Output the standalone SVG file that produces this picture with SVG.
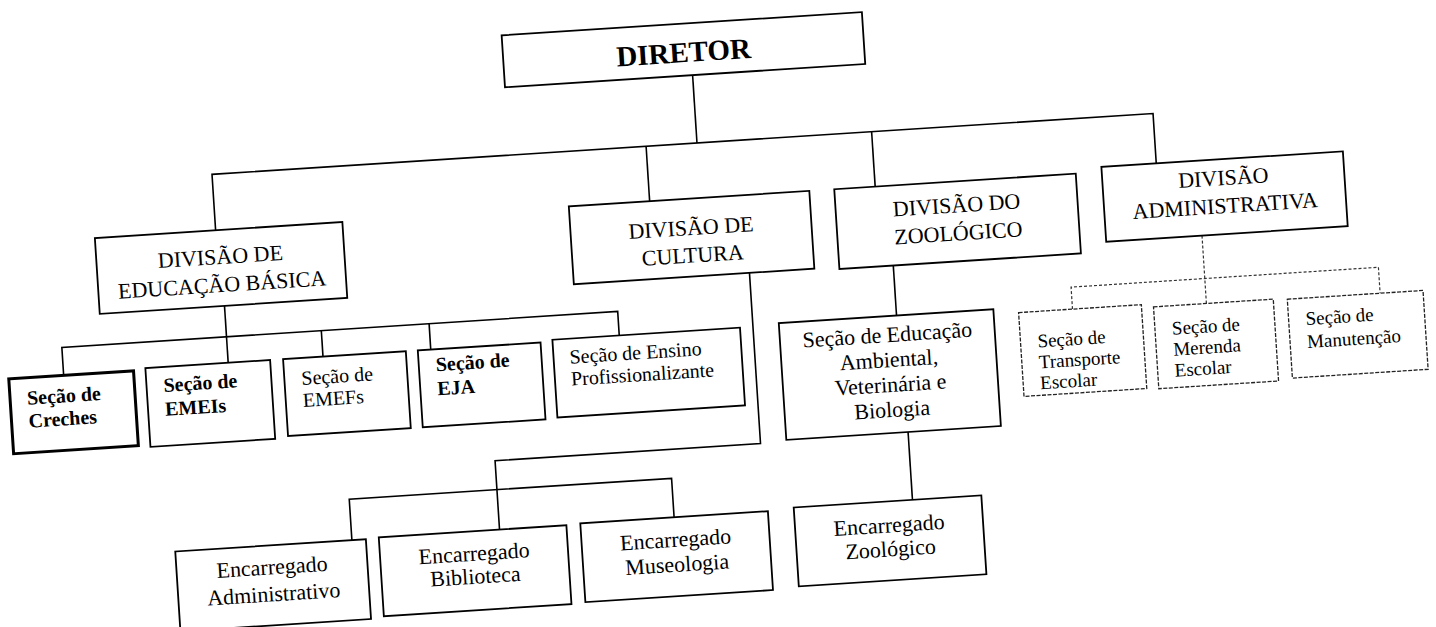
<svg xmlns="http://www.w3.org/2000/svg" width="1436" height="627" viewBox="0 0 1436 627">
<style>
.bg{fill:#fff}
.box{fill:#fff;stroke:#000;stroke-width:1.8}
.thick{fill:#fff;stroke:#000;stroke-width:3}
.dbox{fill:#fff;stroke:#222;stroke-width:1.3;stroke-dasharray:4 1.5}
.ln{fill:none;stroke:#000;stroke-width:1.6}
.dln{fill:none;stroke:#333;stroke-width:1.2;stroke-dasharray:3 2}
.c{text-anchor:middle;font-size:22px}
.s{font-size:20px}
.b{font-weight:bold}
.a{font-size:19px}
</style>
<rect class="bg" x="0" y="0" width="1436" height="627"/>
<g transform="rotate(-3.7 718 313)" font-family="Liberation Serif, DejaVu Serif, serif" fill="#000">
<g id="connectors">
<path class="ln" d="M708,74 V142"/>
<path class="ln" d="M222,198 V142 H1165 V192"/>
<path class="ln" d="M657,142 V197"/>
<path class="ln" d="M883,142 V197"/>
<path class="ln" d="M226,274 V331"/>
<path class="ln" d="M61,333 V305 H618 V329"/>
<path class="ln" d="M321,305 V331"/>
<path class="ln" d="M429,305 V331"/>
<path class="ln" d="M752,275 V446 H486 V515"/>
<path class="ln" d="M338,516 V475 H661 V514"/>
<path class="ln" d="M896,277 V327"/>
<path class="ln" d="M900,444 V512"/>
<path class="dln" d="M1206,267 V335"/>
<path class="dln" d="M1072,332 V310 H1380 V336"/>
</g>
<g id="diretor"><rect class="box" x="520" y="22" width="361" height="52"/><text class="b" x="700.5" y="60.5" text-anchor="middle" font-size="29">DIRETOR</text></g>
<g id="div-educacao"><rect class="box" x="101" y="198" width="248" height="76"/><text class="c" x="225" y="232">DIVISÃO DE</text><text class="c" x="225" y="260">EDUCAÇÃO BÁSICA</text></g>
<g id="div-cultura"><rect class="box" x="576" y="197" width="241" height="78"/><text class="c" x="696.5" y="233.5">DIVISÃO DE</text><text class="c" x="696.5" y="261">CULTURA</text></g>
<g id="div-zoologico"><rect class="box" x="842" y="197" width="242" height="80"/><text class="c" x="963" y="228">DIVISÃO DO</text><text class="c" x="963" y="256">ZOOLÓGICO</text></g>
<g id="div-administrativa"><rect class="box" x="1110" y="192" width="242" height="75"/><text class="c" x="1231" y="218">DIVISÃO</text><text class="c" x="1231" y="246">ADMINISTRATIVA</text></g>
<g id="sec-creches"><rect class="thick" x="6" y="333" width="125" height="75"/><text class="s b" x="23" y="360">Seção de</text><text class="s b" x="23" y="383">Creches</text></g>
<g id="sec-emeis"><rect class="box" x="143" y="331" width="125" height="79"/><text class="s b" x="160" y="356">Seção de</text><text class="s b" x="160" y="380">EMEIs</text></g>
<g id="sec-emefs"><rect class="box" x="281" y="331" width="123" height="77"/><text class="s" x="298" y="358">Seção de</text><text class="s" x="298" y="380">EMEFs</text></g>
<g id="sec-eja"><rect class="box" x="416" y="331" width="123" height="77"/><text class="s b" x="433" y="353">Seção de</text><text class="s b" x="433" y="377">EJA</text></g>
<g id="sec-profissionalizante"><rect class="box" x="551" y="329" width="188" height="78"/><text class="s" x="567" y="354">Seção de Ensino</text><text class="s" x="567" y="376">Profissionalizante</text></g>
<g id="sec-ambiental"><rect class="box" x="778" y="327" width="215" height="117"/><text class="c" x="885.5" y="353">Seção de Educação</text><text class="c" x="885.5" y="378">Ambiental,</text><text class="c" x="885.5" y="403">Veterinária e</text><text class="c" x="885.5" y="428">Biologia</text></g>
<g id="sec-transporte"><rect class="dbox" x="1018" y="332" width="123" height="84"/><text class="a" x="1035" y="368">Seção de</text><text class="a" x="1035" y="389">Transporte</text><text class="a" x="1035" y="410">Escolar</text></g>
<g id="sec-merenda"><rect class="dbox" x="1153" y="335" width="120" height="82"/><text class="a" x="1170" y="364">Seção de</text><text class="a" x="1170" y="385">Merenda</text><text class="a" x="1170" y="406">Escolar</text></g>
<g id="sec-manutencao"><rect class="dbox" x="1287" y="336" width="136" height="79"/><text class="a" x="1304" y="363">Seção de</text><text class="a" x="1304" y="386">Manutenção</text></g>
<g id="enc-administrativo"><rect class="box" x="161" y="516" width="191" height="80"/><text class="c" x="256.5" y="545">Encarregado</text><text class="c" x="256.5" y="572">Administrativo</text></g>
<g id="enc-biblioteca"><rect class="box" x="365" y="515" width="188" height="79"/><text class="c" x="459" y="544.5">Encarregado</text><text class="c" x="459" y="567.5">Biblioteca</text></g>
<g id="enc-museologia"><rect class="box" x="567" y="514" width="188" height="79"/><text class="c" x="661" y="543.6">Encarregado</text><text class="c" x="661" y="568.6">Museologia</text></g>
<g id="enc-zoologico"><rect class="box" x="781" y="512" width="188" height="79"/><text class="c" x="875" y="543">Encarregado</text><text class="c" x="875" y="567">Zoológico</text></g>
</g>
</svg>
